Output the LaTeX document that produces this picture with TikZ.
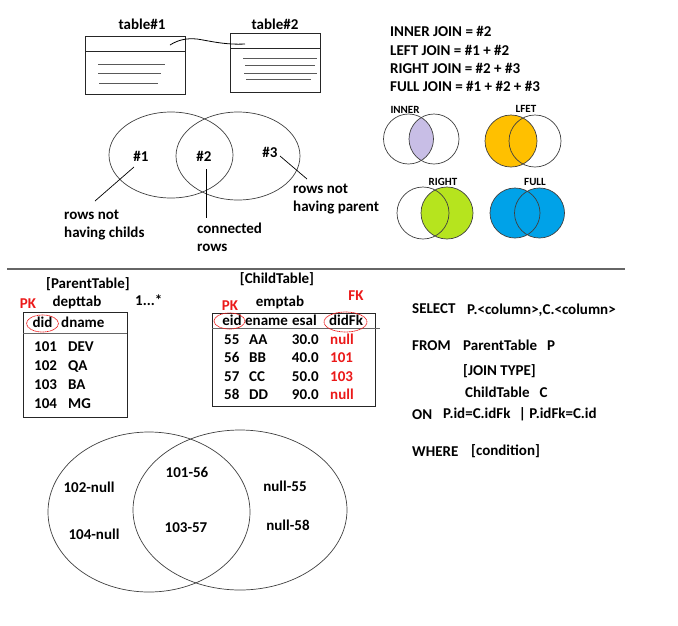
\documentclass[tikz,border=0pt]{standalone}
\usepackage{fontspec}
\setmainfont{Carlito}
\definecolor{lav}{RGB}{200,190,230}
\definecolor{org}{RGB}{255,192,0}
\definecolor{grn}{RGB}{182,228,30}
\definecolor{blu}{RGB}{0,162,232}
\definecolor{pkred}{RGB}{235,25,25}
\begin{document}
\begin{tikzpicture}[x=1pt,y=-1pt,
  lbl/.style={font=\fontsize{15}{18}\selectfont\bfseries, inner sep=0pt, text height=9.6pt, text depth=0pt},
  lw/.style={lbl, anchor=west},
  le/.style={lbl, anchor=east},
  sm/.style={font=\fontsize{11}{13}\selectfont\bfseries, inner sep=0pt, text height=7pt, text depth=0pt},
  redtxt/.style={lbl, text=pkred},
  tbl/.style={draw=black!85, line width=0.8pt},
  tline/.style={draw=black!65, line width=1pt},
  ven/.style={draw=black!75, line width=0.7pt},
  lead/.style={draw=black, line width=0.7pt},
  pkring/.style={draw=pkred, dash pattern=on 1.2pt off 0.5pt, line width=0.7pt}
]
\useasboundingbox (0,0) rectangle (678,625);

% ---------- top tables ----------
\node[lbl] (t1) at (142,25) {table\#1};
\draw[tbl] (85,36) rectangle (185,94);
\draw[tbl] (85,51) -- (185,51);
\draw[tline] (98,64) -- (165,64);
\draw[tline] (98,73) -- (161,73);
\draw[tline] (99,83) -- (158,83);

\node[lbl] (t2) at (275,25) {table\#2};
\draw[tbl] (230,33) rectangle (320,92);
\draw[tbl] (230,48) -- (320,48);
\draw[tline] (243,58) -- (317,58);
\draw[tline] (245,65) -- (315,65);
\draw[tline] (244,73) -- (317,73);
\draw[tline] (246,79) -- (311,79);

\coordinate (w1) at (170,45);
\coordinate (w2) at (245,44);
\draw[line width=0.8pt] (w1) .. controls (178,40) and (186,38) .. (197,39)
   .. controls (210,41) and (225,45) .. (w2);

% ---------- join legend ----------
\node[lw] (ij) at (390,32) {INNER JOIN = \#2};
\node[lw] (lj) at (390,51) {LEFT JOIN = \#1 + \#2};
\node[lw] (rj) at (390,69) {RIGHT JOIN = \#2 + \#3};
\node[lw] (fj) at (390,87) {FULL JOIN = \#1 + \#2 + \#3};

% INNER
\begin{scope}
  \clip (408.5,139) circle [radius=25pt];
  \fill[lav] (434,139) circle [radius=25pt];
\end{scope}
\draw[ven] (408.5,139) circle [radius=25pt];
\draw[ven] (434,139) circle [radius=25pt];
\node[sm] (in) at (405,110) {INNER};

% LFET
\fill[org] (511,141) circle [radius=26pt];
\draw[ven] (511,141) circle [radius=26pt];
\draw[ven] (535,141) circle [radius=26pt];
\node[sm] (lf) at (526,109) {LFET};

% RIGHT
\fill[grn] (447,213) circle [radius=26pt];
\draw[ven] (423,213) circle [radius=26pt];
\draw[ven] (447,213) circle [radius=26pt];
\node[sm] (ri) at (443,182) {RIGHT};

% FULL
\fill[blu] (515,213) circle [radius=25pt];
\fill[blu] (539.5,213) circle [radius=25pt];
\draw[ven] (515,213) circle [radius=25pt];
\draw[ven] (539.5,213) circle [radius=25pt];
\node[sm] (fu) at (535,182) {FULL};

% ---------- top venn ----------
\draw[ven] (171,155) ellipse [x radius=62pt, y radius=43pt];
\draw[ven] (238,156) ellipse [x radius=62pt, y radius=44pt];
\node[lbl] (h1) at (141,157) {\#1};
\node[lbl] (h2) at (204,157) {\#2};
\node[lbl] (h3) at (270,153) {\#3};

\node[lw] (a1) at (64,215) {rows not};
\node[lw] (a2) at (64,233) {having childs};
\node[lw] (b1) at (197,229) {connected};
\node[lw] (b2) at (197,247) {rows};
\node[lw] (c1) at (293,189) {rows not};
\node[lw] (c2) at (293,207) {having parent};

\coordinate (l1s) at (134,167);
\coordinate (l1e) at (95,201);
\coordinate (l2s) at (206,169);
\coordinate (l2e) at (206,218);
\coordinate (l3s) at (280,156);
\coordinate (l3e) at (307,179);
\draw[lead] (l1s) -- (l1e);
\draw[lead] (l2s) -- (l2e);
\draw[lead] (l3s) -- (l3e);

% ---------- separator ----------
\coordinate (sepL) at (7,269);
\coordinate (sepR) at (625,269);
\draw[draw=black!60, line width=1.6pt] (sepL) -- (sepR);

% ---------- parent table ----------
\node[lbl] (pt) at (88,284) {[ParentTable]};
\node[lbl] (dt) at (77,302) {depttab};
\node[lw] (mult) at (135,301) {1...*};
\node[redtxt] (pk1) at (28,304) {PK};
\draw[tbl] (23,312) rectangle (127,417);
\draw[draw=black!60, line width=1pt] (23,333) -- (127,333);
\node[lbl] (did) at (42.5,323) {did};
\node[lw] (dn) at (61,323) {dname};
\draw[pkring] (42.5,323.5) ellipse [x radius=16pt, y radius=8.5pt];

\node[lw] at (34,347) {101}; \node[lw] at (68,347) {DEV};
\node[lw] at (34,366) {102}; \node[lw] at (68,366) {QA};
\node[lw] at (34,385) {103}; \node[lw] at (68,385) {BA};
\node[lw] at (34,404) {104}; \node[lw] at (68,404) {MG};

% ---------- child table ----------
\node[lbl] (ct) at (277,279) {[ChildTable]};
\node[lbl] (et) at (280,302) {emptab};
\node[redtxt] (fk) at (356,296) {FK};
\node[redtxt] (pk2) at (230,306) {PK};
\draw[tbl] (212,313) rectangle (375,406);
\draw[draw=black!60, line width=1pt] (212,328) -- (380,328);
\node[lbl] (eid) at (232,321) {eid};
\node[lw] (en) at (245,321) {ename};
\node[lw] (es) at (292,321) {esal};
\node[lbl] (dfk) at (346,321) {didFk};
\draw[pkring] (229.5,321) ellipse [x radius=15.5pt, y radius=8pt];
\draw[pkring] (345.5,322) ellipse [x radius=21.5pt, y radius=10pt];

\node[lw] at (224,340) {55}; \node[lw] at (249,340) {AA}; \node[le] at (319,340) {30.0}; \node[lw,text=pkred] at (330,340) {null};
\node[lw] at (224,358) {56}; \node[lw] at (249,358) {BB}; \node[le] at (319,358) {40.0}; \node[lw,text=pkred] at (330,358) {101};
\node[lw] at (224,377) {57}; \node[lw] at (249,377) {CC}; \node[le] at (319,377) {50.0}; \node[lw,text=pkred] at (330,377) {103};
\node[lw] at (224,395) {58}; \node[lw] at (249,395) {DD}; \node[le] at (319,395) {90.0}; \node[lw,text=pkred] at (330,395) {null};

% ---------- SQL ----------
\node[lw] (sel) at (412,309) {SELECT};
\node[lw] (selc) at (467,310) {P.<column>,C.<column>};
\node[lw] (frm) at (412,346) {FROM};
\node[lw] (frmt) at (463,346) {ParentTable\hspace{10pt}P};
\node[lw] (jt) at (463,371) {[JOIN TYPE]};
\node[lw] (cht) at (465,393) {ChildTable\hspace{10pt}C};
\node[lw] (on) at (412,415) {ON};
\node[lw] (onc) at (443,414) {P.id=C.idFk\hspace{5pt} | P.idFk=C.id};
\node[lw] (wh) at (412,452) {WHERE};
\node[lw] (cond) at (471,451) {[condition]};

% ---------- bottom venn ----------
\draw[ven] (149,512) ellipse [x radius=101pt, y radius=80pt];
\draw[ven] (240,510) ellipse [x radius=107pt, y radius=80pt];
\node[lbl] (v1) at (89,488) {102-null};
\node[lbl] (v2) at (94,535) {104-null};
\node[lbl] (v3) at (187,473) {101-56};
\node[lbl] (v4) at (186,528) {103-57};
\node[lbl] (v5) at (285,487) {null-55};
\node[lbl] (v6) at (288,526) {null-58};
\end{tikzpicture}
\end{document}
